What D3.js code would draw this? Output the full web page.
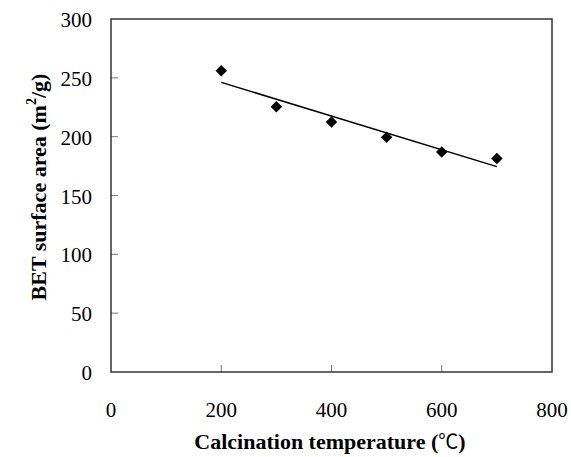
<!DOCTYPE html>
<html>
<head>
<meta charset="utf-8">
<script src="https://cdn.jsdelivr.net/npm/d3@7"></script>
<style>
  body { margin: 0; background: #fff; }
  svg text { font-family: "Liberation Serif", "Times New Roman", serif; }
</style>
</head>
<body>
<div id="chart"></div>
<script>
const temps = [200, 300, 400, 500, 600, 700];
const areas = [256, 225.5, 212.5, 199.5, 187, 181.5];
const xTicks = [0, 200, 400, 600, 800];
const yTicks = [0, 50, 100, 150, 200, 250, 300];

const svg = d3.select("#chart").append("svg")
  .attr("width", 571)
  .attr("height", 457);

const x = d3.scaleLinear().domain([0, 800]).range([111, 552]);
const y = d3.scaleLinear().domain([0, 300]).range([372, 19]);

// ticks inside the frame
svg.append("g")
  .selectAll("line")
  .data(yTicks.slice(1, -1))
  .enter().append("line")
  .attr("x1", x(0)).attr("x2", x(0) + 7)
  .attr("y1", d => y(d)).attr("y2", d => y(d))
  .style("stroke", "#777").style("stroke-width", 1);

svg.append("g")
  .selectAll("line")
  .data(xTicks.slice(1, -1))
  .enter().append("line")
  .attr("x1", d => x(d)).attr("x2", d => x(d))
  .attr("y1", y(0)).attr("y2", y(0) - 7)
  .style("stroke", "#777").style("stroke-width", 1);

// frame
svg.append("rect")
  .attr("x", x(0)).attr("y", y(300))
  .attr("width", x(800) - x(0)).attr("height", y(0) - y(300))
  .style("fill", "none").style("stroke", "#333").style("stroke-width", 1.5);

// tick labels
svg.append("g")
  .selectAll("text")
  .data(yTicks)
  .enter().append("text")
  .attr("x", 92)
  .attr("y", d => y(d) + 8)
  .style("text-anchor", "end")
  .style("font-size", "21px")
  .text(d => d);

svg.append("g")
  .selectAll("text")
  .data(xTicks)
  .enter().append("text")
  .attr("x", d => x(d))
  .attr("y", 417)
  .style("text-anchor", "middle")
  .style("font-size", "21px")
  .text(d => d);

// linear trend line
const mx = d3.mean(temps), my = d3.mean(areas);
const slope = d3.sum(temps, (t, i) => (t - mx) * (areas[i] - my)) / d3.sum(temps, t => (t - mx) * (t - mx));
const fit = t => my + slope * (t - mx);
const ends = [d3.min(temps), d3.max(temps)];

svg.append("path")
  .datum(ends)
  .attr("d", d3.line().x(d => x(d)).y(d => y(fit(d))))
  .style("stroke", "#000").style("stroke-width", 1.5).style("fill", "none");

// markers
svg.append("g")
  .selectAll("path")
  .data(temps)
  .enter().append("path")
  .attr("d", d3.symbol().type(d3.symbolSquare).size(66))
  .attr("transform", (d, i) => `translate(${x(d)},${y(areas[i])}) rotate(45)`)
  .style("fill", "#000");

// axis titles
const xl = svg.append("text")
  .attr("x", 330)
  .attr("y", 449)
  .style("text-anchor", "middle")
  .style("font-size", "22px")
  .style("font-weight", "bold");
xl.append("tspan").text("Calcination temperature (");
xl.append("tspan")
  .style("font-family", "'Noto Sans CJK SC', sans-serif")
  .style("font-weight", "normal")
  .style("font-size", "20px")
  .text("℃");
xl.append("tspan").text(")");

const yl = svg.append("text")
  .attr("transform", "translate(46,187) rotate(-90)")
  .style("text-anchor", "middle")
  .style("font-size", "22px")
  .style("font-weight", "bold");
yl.append("tspan").text("BET surface area (m");
yl.append("tspan").attr("dy", -10).style("font-size", "14px").text("2");
yl.append("tspan").attr("dy", 10).text("/g)");
</script>
</body>
</html>
